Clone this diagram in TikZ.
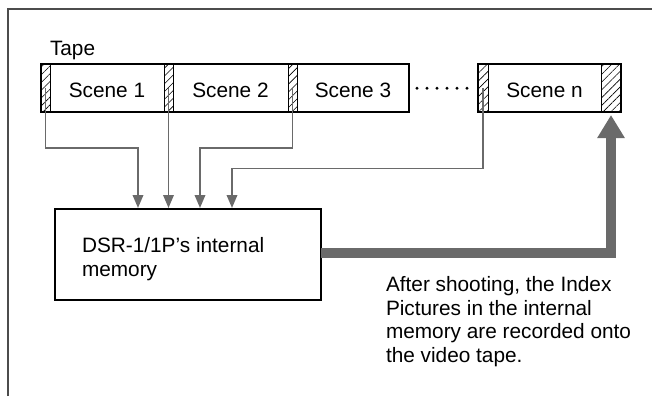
\documentclass[tikz,border=0pt]{standalone}
\usepackage{fontspec}
\setmainfont{Liberation Sans}
\usetikzlibrary{arrows.meta,patterns.meta}
\definecolor{conngray}{HTML}{6A6A6A}
\begin{document}
\begin{tikzpicture}[x=1pt,y=-1pt,
  txt/.style={font=\fontsize{20.8}{23.8}\selectfont, inner sep=0pt, outer sep=0pt},
  hatch/.style={draw=black, line width=0.8pt, inner sep=0pt, outer sep=0pt, minimum height=48pt, anchor=north west,
     pattern={Lines[angle=45,distance=5.5pt,line width=0.6pt]}},
  scene/.style={draw=black, line width=0.8pt, inner sep=0pt, outer sep=0pt, minimum height=48pt, anchor=north west,
     font=\fontsize{20.8}{24}\selectfont, text height=19pt, text depth=0pt},
  tapeborder/.style={draw=black, line width=2.2pt},
  conn/.style={draw=conngray, line width=1.8pt, -{Triangle[length=13pt,width=10.5pt]}},
  bigarrow/.style={draw=conngray, line width=10pt, -{Triangle[length=23pt,width=26pt]}},
  membox/.style={draw=black, line width=2pt, inner sep=0pt, outer sep=0pt, anchor=north west,
     minimum width=266pt, minimum height=91pt},
  frame/.style={draw=black!70, line width=1.3pt}]
\useasboundingbox (0,0) rectangle (652,396);
% page frame
\draw[frame] (8,396) -- (8,9) -- (652,9);
% tape label
\node[txt, anchor=base west] (tapelbl) at (50,56) {Tape};
% tape segments
\node[hatch, minimum width=9pt] (h1) at (41,64) {};
\node[scene, minimum width=114pt] (s1) at (50,64) {Scene 1};
\node[hatch, minimum width=9pt] (h2) at (164,64) {};
\node[scene, minimum width=115pt] (s2) at (173,64) {Scene 2};
\node[hatch, minimum width=9pt] (h3) at (288,64) {};
\node[scene, minimum width=112pt] (s3) at (297,64) {Scene 3};
\node[hatch, minimum width=10pt] (hn) at (478,64) {};
\node[scene, minimum width=113pt] (sn) at (488,64) {Scene n};
\node[hatch, minimum width=20pt] (hn2) at (601,64) {};
\draw[tapeborder] (h1.north west) rectangle (s3.south east);
\draw[tapeborder] (hn.north west) rectangle (hn2.south east);
% dots
\foreach \i in {0,...,5} {
  \fill (417+10*\i,88.3) circle (1.6pt);
}
% memory box
\node[membox] (mem) at (55,209) {};
\node[txt, anchor=base west, align=left] (memtxt) at (82,276.5) {DSR-1/1P’s internal\\memory};
% targets on memory box
\coordinate (t1) at (138,208);
\coordinate (t2) at (168,208);
\coordinate (t3) at (200,208);
\coordinate (t4) at (232,208);
% connectors
\draw[conn] (h1.center) -- (h1.center |- 0,148) -| (t1);
\draw[conn] (h2.center) -- (h2.center |- t2);
\draw[conn] (h3.center) -- (h3.center |- 0,148) -| (t3);
\draw[conn] (hn.center) -- (hn.center |- 0,168.5) -| (t4);
% big arrow back to tape
\draw[bigarrow, shorten >=3pt] ([yshift=1.5pt]mem.east) -| (hn2.south);
% note
\node[txt, anchor=base west, align=left] (note) at (386,362.6) {After shooting, the Index\\Pictures in the internal\\memory are recorded onto\\the video tape.};
\end{tikzpicture}
\end{document}
